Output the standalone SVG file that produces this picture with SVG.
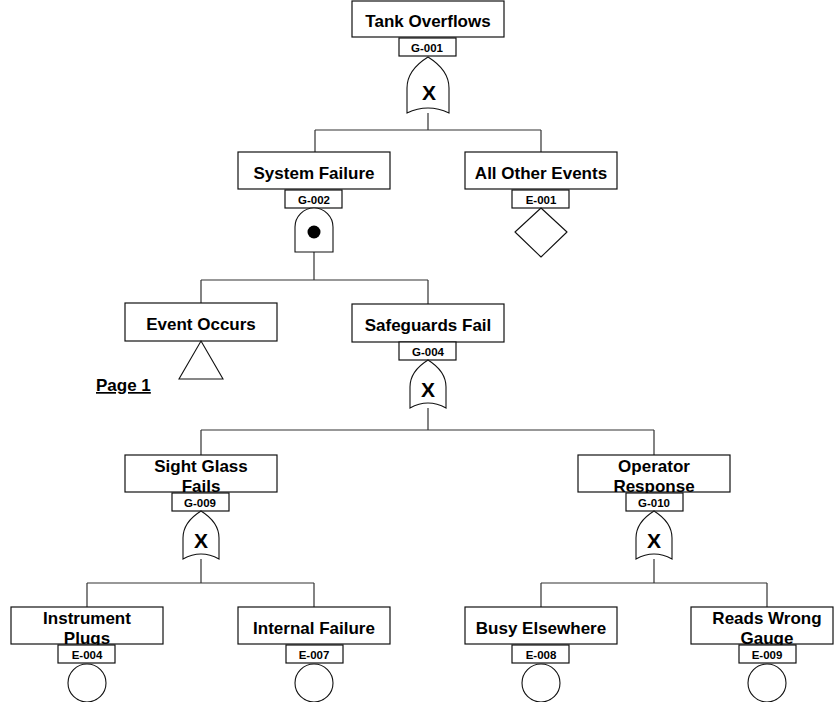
<svg xmlns="http://www.w3.org/2000/svg" width="834" height="702" viewBox="0 0 834 702">
<style>
.box{fill:#fff;stroke:#111;stroke-width:1.2}
.lbl{fill:#fff;stroke:#111;stroke-width:1.2}
.gate{fill:#fff;stroke:#111;stroke-width:1.1}
.t{font-family:"Liberation Sans",Arial,sans-serif;font-weight:bold;font-size:17px;text-anchor:middle;fill:#000}
.s{font-family:"Liberation Sans",Arial,sans-serif;font-weight:bold;font-size:11.5px;text-anchor:middle;fill:#000}
.x{font-family:"Liberation Sans",Arial,sans-serif;font-weight:bold;font-size:21px;text-anchor:middle;fill:#000}
.c{fill:none;stroke:#333;stroke-width:1.2}
</style>
<rect width="834" height="702" fill="#fff"/>
<g id="connectors">
<path class="c" d="M428,113V130M315,130H541M315,130V152M541,130V152"/>
<path class="c" d="M314,252V280M201,280H428M201,280V303M428,280V304"/>
<path class="c" d="M428,408V430M201,430H654M201,430V455M654,430V455"/>
<path class="c" d="M201,559V583M87,583H314M87,583V607M314,583V607"/>
<path class="c" d="M654,559V583M541,583H767M541,583V607M767,583V607"/>
</g>
<g id="G-001">
<rect class="box" x="352" y="1" width="152" height="36"/>
<text class="t" x="428" y="27">Tank Overflows</text>
<rect class="lbl" x="399" y="38" width="57" height="18"/>
<text class="s" x="427" y="52">G-001</text>
<path class="gate" d="M407,113 Q428,103 449,113 L449,88 C449,72 436,62 428,57 C420,62 407,72 407,88 Z"/>
<text class="x" x="429" y="100">X</text>
</g>
<g id="G-002">
<rect class="box" x="238" y="152" width="152" height="37"/>
<text class="t" x="314" y="179">System Failure</text>
<rect class="lbl" x="285" y="190" width="57" height="18"/>
<text class="s" x="314" y="204">G-002</text>
<path class="gate" d="M295,252 L295,227 A19,19 0 0 1 333,227 L333,252 Z"/>
<circle cx="314" cy="232" r="6.5" fill="#000"/>
</g>
<g id="E-001">
<rect class="box" x="465" y="152" width="152" height="37"/>
<text class="t" x="541" y="179">All Other Events</text>
<rect class="lbl" x="512" y="190" width="57" height="18"/>
<text class="s" x="541" y="204">E-001</text>
<path class="gate" d="M541,208 L567,232 L541,257 L515,232 Z" stroke-linejoin="round"/>
</g>
<g id="E-002">
<rect class="box" x="125" y="303" width="152" height="38"/>
<text class="t" x="201" y="330">Event Occurs</text>
<path class="gate" d="M201,341 L223,379 L179,379 Z"/>
</g>
<g id="G-004">
<rect class="box" x="352" y="304" width="152" height="38"/>
<text class="t" x="428" y="331">Safeguards Fail</text>
<rect class="lbl" x="399" y="342" width="57" height="18"/>
<text class="s" x="428" y="356">G-004</text>
<path class="gate" d="M410,408 Q428,398 446,408 L446,387 C446,373 436,365 428,360 C420,365 410,373 410,387 Z"/>
<text class="x" x="428" y="397">X</text>
</g>
<text x="96" y="391" font-family="Liberation Sans, Arial, sans-serif" font-weight="bold" font-size="17" text-decoration="underline" fill="#000">Page 1</text>
<g id="G-009">
<rect class="box" x="125" y="455" width="152" height="37"/>
<text class="t" x="201" y="472">Sight Glass</text>
<text class="t" x="201" y="492">Fails</text>
<rect class="lbl" x="172" y="493" width="57" height="18"/>
<text class="s" x="200" y="507">G-009</text>
<path class="gate" d="M183,559 Q201,549 219,559 L219,538 C219,524 209,516 201,511 C193,516 183,524 183,538 Z"/>
<text class="x" x="201" y="548">X</text>
</g>
<g id="G-010">
<rect class="box" x="578" y="455" width="152" height="37"/>
<text class="t" x="654" y="472">Operator</text>
<text class="t" x="654" y="492">Response</text>
<rect class="lbl" x="626" y="493" width="57" height="18"/>
<text class="s" x="654" y="507">G-010</text>
<path class="gate" d="M636,559 Q654,549 672,559 L672,538 C672,524 662,516 654,511 C646,516 636,524 636,538 Z"/>
<text class="x" x="654" y="548">X</text>
</g>
<g id="E-004">
<rect class="box" x="11" y="607" width="152" height="37"/>
<text class="t" x="87" y="624">Instrument</text>
<text class="t" x="87" y="644">Plugs</text>
<rect class="lbl" x="58" y="645" width="57" height="18"/>
<text class="s" x="87" y="659">E-004</text>
<circle class="gate" cx="87" cy="683" r="19"/>
</g>
<g id="E-007">
<rect class="box" x="238" y="607" width="152" height="37"/>
<text class="t" x="314" y="634">Internal Failure</text>
<rect class="lbl" x="286" y="645" width="57" height="18"/>
<text class="s" x="314" y="659">E-007</text>
<circle class="gate" cx="314" cy="683" r="19"/>
</g>
<g id="E-008">
<rect class="box" x="465" y="607" width="152" height="37"/>
<text class="t" x="541" y="634">Busy Elsewhere</text>
<rect class="lbl" x="512" y="645" width="57" height="18"/>
<text class="s" x="541" y="659">E-008</text>
<circle class="gate" cx="541" cy="683" r="19"/>
</g>
<g id="E-009">
<rect class="box" x="691" y="607" width="142" height="37"/>
<text class="t" x="767" y="624">Reads Wrong</text>
<text class="t" x="767" y="644">Gauge</text>
<rect class="lbl" x="739" y="645" width="57" height="18"/>
<text class="s" x="767" y="659">E-009</text>
<circle class="gate" cx="767" cy="683" r="19"/>
</g>
</svg>
